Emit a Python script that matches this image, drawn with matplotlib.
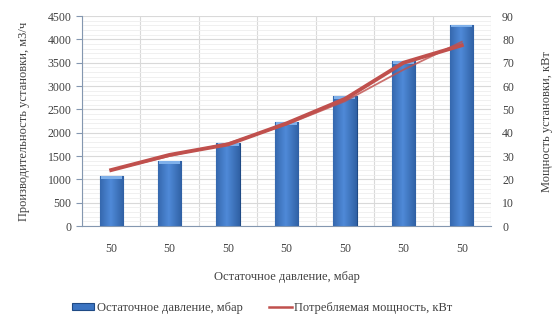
import numpy as np
import matplotlib
matplotlib.use("Agg")
import matplotlib.pyplot as plt
from matplotlib.ticker import MultipleLocator

# data
categories = ["50", "50", "50", "50", "50", "50", "50"]
capacity = [1070, 1395, 1780, 2230, 2785, 3535, 4320]          # m3/h, left axis
power = [24, 30.5, 35, 44, 54.5, 70, 77.5]                      # kW, right axis
power_second = [24, 30, 35.5, 43.5, 53.5, 67, 79]               # thin overlapping line

plt.rcParams["font.family"] = ["Liberation Serif", "DejaVu Serif"]
plt.rcParams["font.size"] = 8.5

fig = plt.figure(figsize=(5.6, 3.29), dpi=100)
ax = fig.add_axes([0.1464, 0.313, 0.7304, 0.638])
ax2 = ax.twinx()

x = np.arange(len(categories))
bars = ax.bar(x, capacity, width=0.4, color="#3b74c2", edgecolor="#1f4a85",
              linewidth=0.8, zorder=3, label="Остаточное давление, мбар")

# horizontal gradient to mimic the bevelled Excel bars
grad = np.linspace(0, 1, 64)
shade = 1 - 0.55 * np.abs(grad - 0.45) * 2
grad_img = np.vstack([shade, shade])
cmap = matplotlib.colors.LinearSegmentedColormap.from_list("b", ["#1c4683", "#4f8ad8"])
for b in bars:
    bx, by = b.get_x(), b.get_y()
    im = ax.imshow(grad_img, extent=[bx, bx + b.get_width(), by, by + b.get_height()],
                   aspect="auto", cmap=cmap, vmin=0, vmax=1, zorder=3.5)
    im.set_clip_path(b)
    # lighter cap at top of bar
    ax.bar(b.get_x() + b.get_width() / 2, 60, bottom=b.get_height() - 60,
           width=b.get_width() * 0.9, color="#7fb0ea", linewidth=0, zorder=3.6)

ax.set_xlim(-0.5, len(categories) - 0.5)
ax.set_ylim(0, 4500)
ax.yaxis.set_major_locator(MultipleLocator(500))
ax.yaxis.set_minor_locator(MultipleLocator(100))
ax.set_xticks(x)
ax.set_xticklabels(categories)
ax.set_xticks(np.arange(len(categories) + 1) - 0.5, minor=True)
ax.tick_params(axis="x", which="both", length=0, pad=12, colors="#404040")
ax.tick_params(axis="y", which="major", length=4, color="#8497b0", colors="#404040")
ax.tick_params(axis="y", which="minor", length=0)
ax.grid(axis="y", which="major", color="#d9d9d9", linewidth=0.8, zorder=0)
ax.grid(axis="y", which="minor", color="#eeeeee", linewidth=0.6, zorder=0)
ax.grid(axis="x", which="minor", color="#d9d9d9", linewidth=0.8, zorder=0)
ax.set_axisbelow(True)
for side in ["top", "right"]:
    ax.spines[side].set_visible(False)
ax.spines["left"].set_color("#8497b0")
ax.spines["bottom"].set_color("#8497b0")
ax.set_ylabel("Производительность установки, м3/ч", fontsize=9, color="#404040", labelpad=13)
ax.set_xlabel("Остаточное давление, мбар", fontsize=9, color="#404040", labelpad=12)

ax2.plot(x, power_second, color="#c0504d", linewidth=1.3, alpha=0.8, zorder=4)
ax2.plot(x, power, color="#c0504d", linewidth=2.8, zorder=5,
         label="Потребляемая мощность, кВт")
ax2.set_ylim(0, 90)
ax2.yaxis.set_major_locator(MultipleLocator(10))
ax2.tick_params(axis="y", length=0, pad=8, colors="#404040")
for side in ["top", "right", "left", "bottom"]:
    ax2.spines[side].set_visible(False)
ax2.set_ylabel("Мощность установки, кВт", fontsize=9, color="#404040", labelpad=19)

h1, l1 = ax.get_legend_handles_labels()
legend_line = plt.Line2D([], [], color="#c0504d", linewidth=1.8)
fig.legend(h1 + [legend_line], l1 + ["Потребляемая мощность, кВт"], loc="center",
           bbox_to_anchor=(0.468, 0.064), ncol=2, frameon=False, columnspacing=2.1,
           handlelength=1.8, handleheight=0.5, handletextpad=0.2,
           fontsize=9, labelcolor="#404040")

fig.savefig("out.png", dpi=100)
